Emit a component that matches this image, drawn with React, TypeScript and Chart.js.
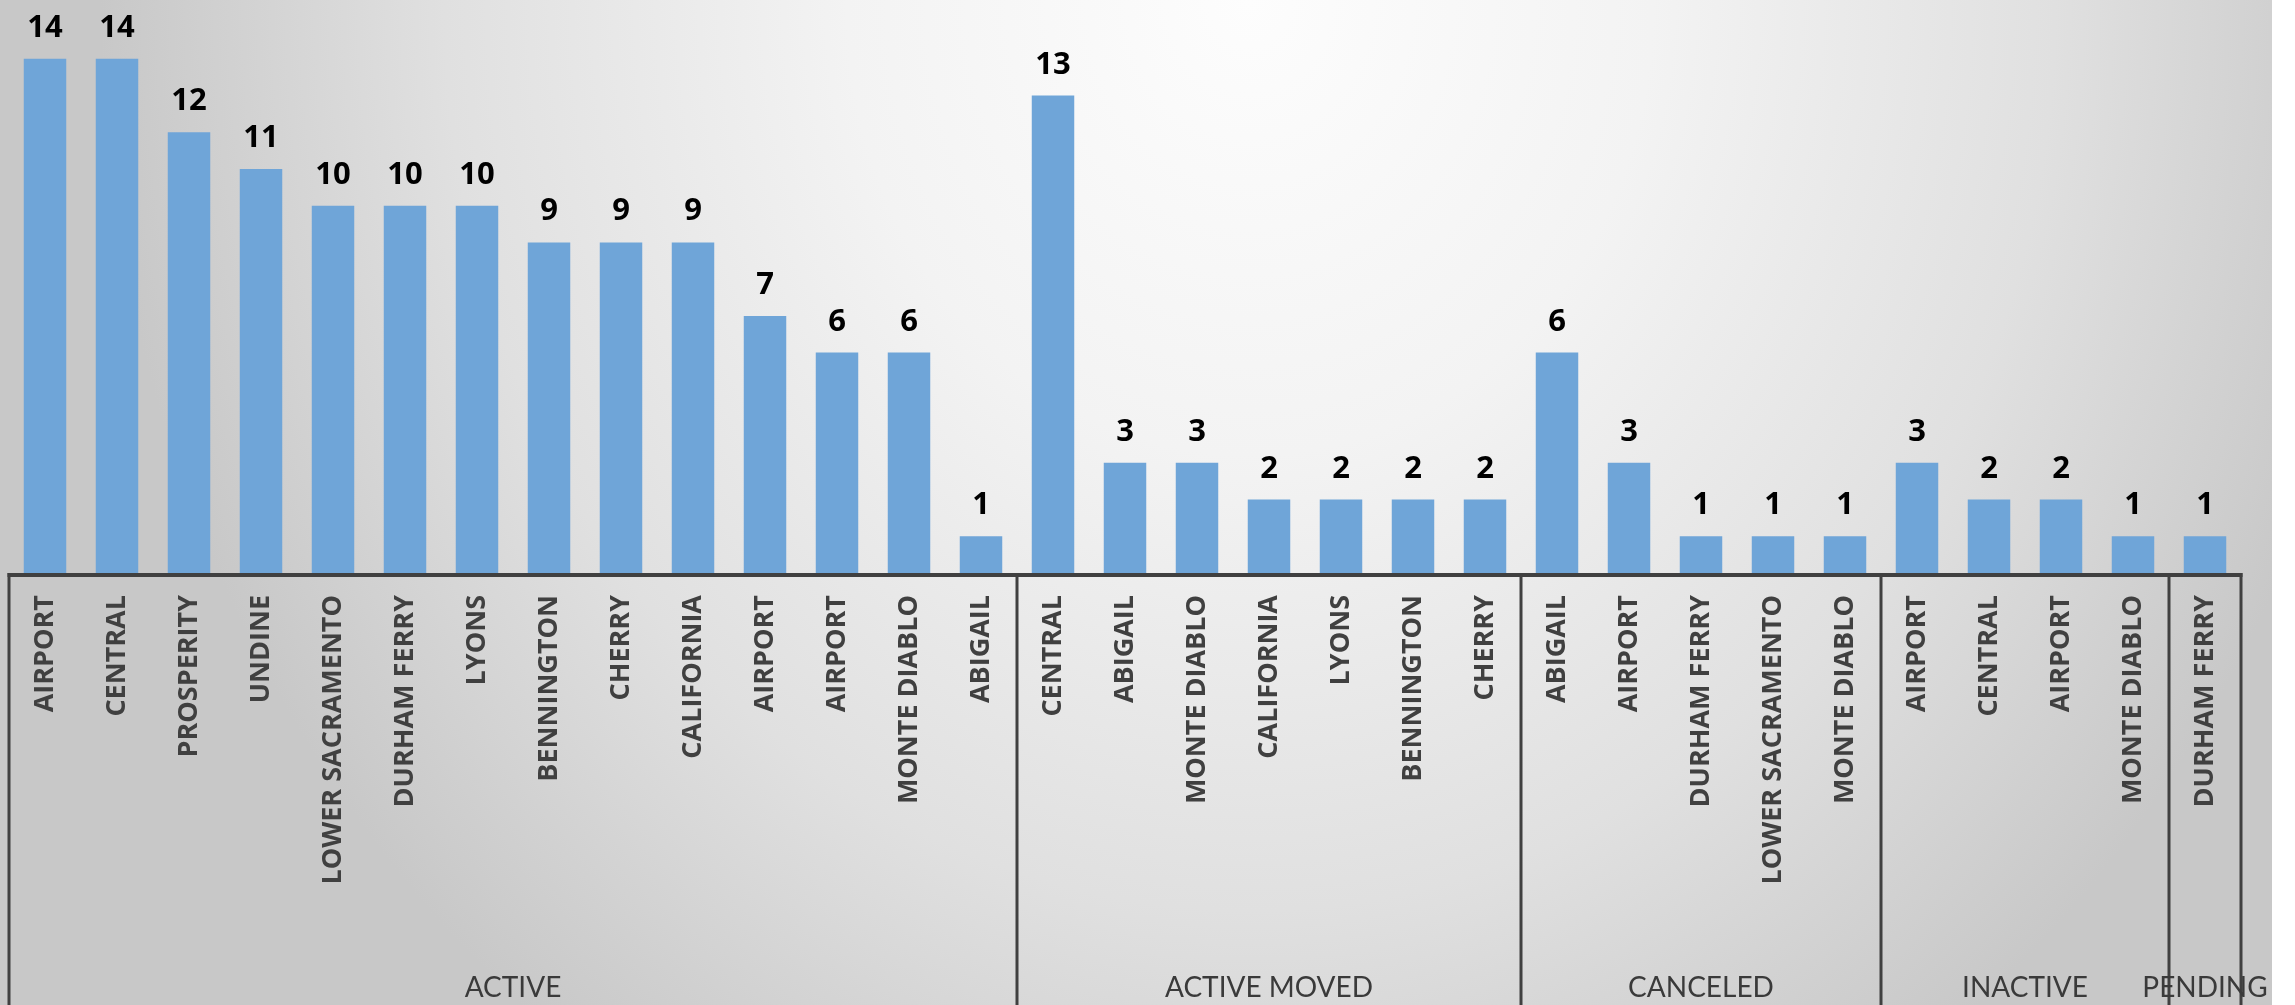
import React, { useEffect, useRef } from "react";
import { Chart, registerables } from "chart.js";

Chart.register(...registerables);

const categories: string[] = [
  "AIRPORT", "CENTRAL", "PROSPERITY", "UNDINE", "LOWER SACRAMENTO", "DURHAM FERRY", "LYONS",
  "BENNINGTON", "CHERRY", "CALIFORNIA", "AIRPORT", "AIRPORT", "MONTE DIABLO", "ABIGAIL",
  "CENTRAL", "ABIGAIL", "MONTE DIABLO", "CALIFORNIA", "LYONS", "BENNINGTON", "CHERRY",
  "ABIGAIL", "AIRPORT", "DURHAM FERRY", "LOWER SACRAMENTO", "MONTE DIABLO",
  "AIRPORT", "CENTRAL", "AIRPORT", "MONTE DIABLO",
  "DURHAM FERRY",
];

const counts: number[] = [
  14, 14, 12, 11, 10, 10, 10, 9, 9, 9, 7, 6, 6, 1,
  13, 3, 3, 2, 2, 2, 2,
  6, 3, 1, 1, 1,
  3, 2, 2, 1,
  1,
];

const groupNames: string[] = ["ACTIVE", "ACTIVE MOVED", "CANCELED", "INACTIVE", "PENDING"];
const groupSizes: number[] = [14, 7, 5, 4, 1];

const BAR_COLOR = "#6FA5D8";
const LINE_COLOR = "#404040";

const backgroundPlugin = {
  id: "bgGradient",
  beforeDraw(chart: any) {
    const { ctx, width, height } = chart;
    ctx.save();
    const cx = 1250;
    const cy = 0;
    const rx = 1150;
    const ry = 1300;
    ctx.translate(cx, cy);
    ctx.scale(1, ry / rx);
    const g = ctx.createRadialGradient(0, 0, 0, 0, 0, rx);
    g.addColorStop(0, "#fdfdfd");
    g.addColorStop(0.35, "#f3f3f3");
    g.addColorStop(0.7, "#e0e0e0");
    g.addColorStop(1, "#c8c8c8");
    ctx.fillStyle = g;
    ctx.fillRect(-cx - 10, -10, width + 20, (height + 20) * (rx / ry));
    ctx.restore();
  },
};

const groupPlugin = {
  id: "groupAxis",
  afterDraw(chart: any) {
    const { ctx, chartArea, height } = chart;
    const xs = chart.scales.x;
    const n = categories.length;
    const step = n > 1 ? xs.getPixelForValue(1) - xs.getPixelForValue(0) : chartArea.width;
    const edge = (i: number) => xs.getPixelForValue(i) - step / 2;
    const axisY = chartArea.bottom;
    ctx.save();
    ctx.strokeStyle = LINE_COLOR;
    ctx.lineWidth = 4;
    ctx.beginPath();
    ctx.moveTo(edge(0) - 1.5, axisY + 2);
    ctx.lineTo(edge(n) + 1.5, axisY + 2);
    ctx.stroke();
    ctx.lineWidth = 3;
    let start = 0;
    const bounds: number[] = [0];
    groupSizes.forEach((s) => {
      start += s;
      bounds.push(start);
    });
    bounds.forEach((b) => {
      const x = edge(b);
      ctx.beginPath();
      ctx.moveTo(x, axisY);
      ctx.lineTo(x, height);
      ctx.stroke();
    });
    ctx.fillStyle = "#3a3a3a";
    ctx.font = "normal 28px Lato";
    ctx.textAlign = "center";
    ctx.textBaseline = "alphabetic";
    groupNames.forEach((name, gi) => {
      const a = edge(bounds[gi]);
      const b = edge(bounds[gi + 1]);
      ctx.fillText(name, (a + b) / 2, height - 8);
    });
    ctx.restore();
  },
};

const valueLabelPlugin = {
  id: "valueLabels",
  afterDatasetsDraw(chart: any) {
    const { ctx } = chart;
    const meta = chart.getDatasetMeta(0);
    ctx.save();
    ctx.fillStyle = "#000000";
    ctx.font = "bold 31px 'Open Sans'";
    ctx.textAlign = "center";
    ctx.textBaseline = "alphabetic";
    meta.data.forEach((el: any, i: number) => {
      ctx.fillText(String(counts[i]), el.x, el.y - 22);
    });
    ctx.restore();
  },
};

export default function App() {
  const ref = useRef<HTMLCanvasElement | null>(null);

  useEffect(() => {
    document.body.style.margin = "0";
    const canvas = ref.current;
    if (!canvas) return;
    const chart = new Chart(canvas, {
      type: "bar",
      data: {
        labels: categories,
        datasets: [
          {
            data: counts,
            backgroundColor: BAR_COLOR,
            borderWidth: 0,
            categoryPercentage: 1,
            barPercentage: 0.59,
          },
        ],
      },
      options: {
        responsive: false,
        animation: false,
        devicePixelRatio: 1,
        layout: { padding: { left: 9, right: 31, top: 0, bottom: 0 } },
        plugins: {
          legend: { display: false },
          tooltip: { enabled: false },
          title: { display: false },
        },
        scales: {
          y: {
            display: false,
            min: 0,
            max: 15.6,
          },
          x: {
            grid: { display: false, drawTicks: false },
            border: { display: false },
            ticks: {
              autoSkip: false,
              maxRotation: 90,
              minRotation: 90,
              padding: 22,
              color: LINE_COLOR,
              font: { family: "'Open Sans'", weight: "bold", size: 27 },
            },
            afterFit: (scale: any) => {
              scale.height = 432;
            },
          },
        },
      },
      plugins: [backgroundPlugin, valueLabelPlugin, groupPlugin],
    });
    if ((document as any).fonts && (document as any).fonts.ready) {
      (document as any).fonts.ready.then(() => chart.update());
    }
    return () => chart.destroy();
  }, []);

  return (
    <div style={{ position: "absolute", left: 0, top: 0, width: 2295, height: 1005, background: "#ffffff" }}>
      <canvas ref={ref} width={2272} height={1005} style={{ display: "block" }} />
    </div>
  );
}
